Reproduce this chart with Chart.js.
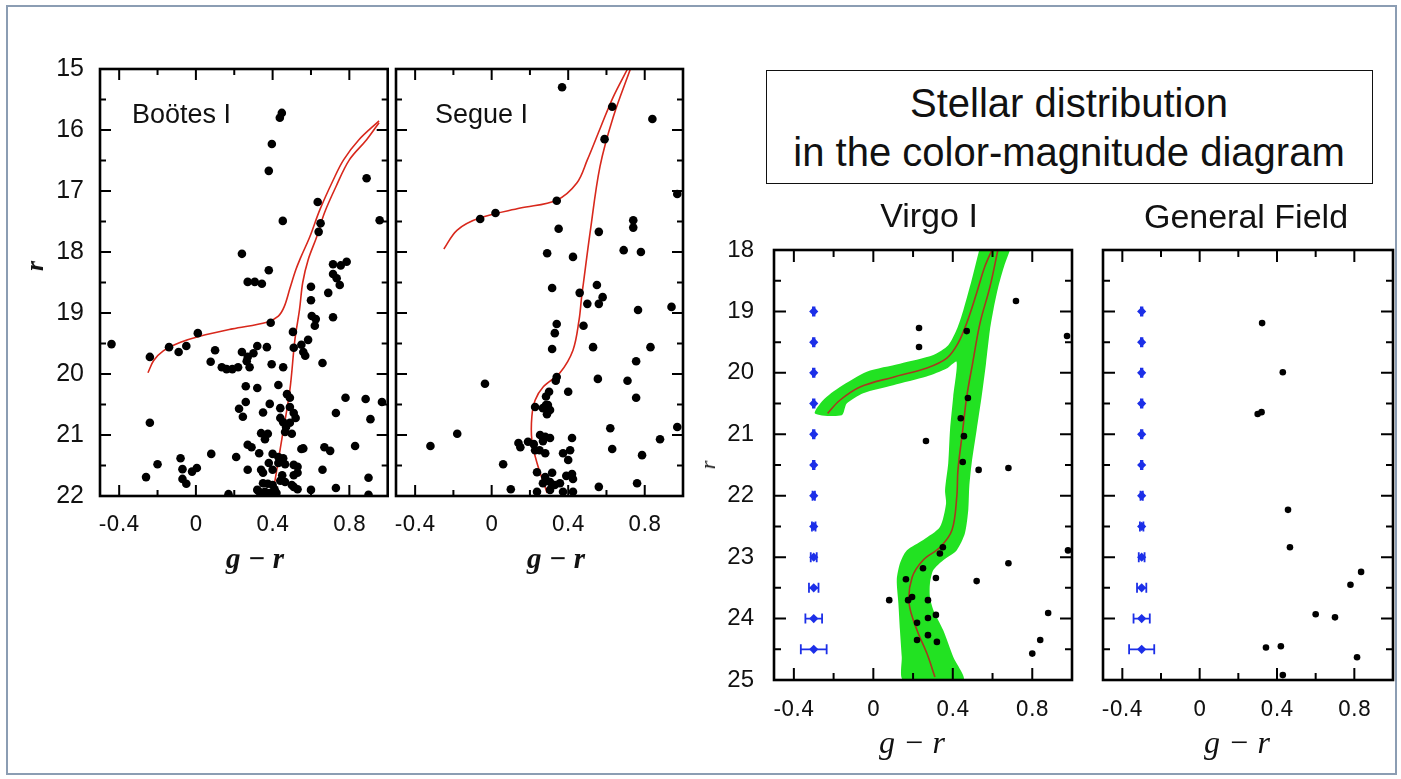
<!DOCTYPE html>
<html>
<head>
<meta charset="utf-8">
<title>Color-magnitude diagrams</title>
<script src="https://cdn.jsdelivr.net/npm/chart.js@4.4.1/dist/chart.umd.min.js"></script>
<style>
  html, body { margin: 0; padding: 0; background: #fff; }
  #page { position: relative; width: 1401px; height: 779px; overflow: hidden; background: #fff;
          font-family: "Liberation Sans", Arial, sans-serif; color: #111; }
  #slideFrame { position: absolute; left: 6px; top: 5px; width: 1391px; height: 770px;
                border: 2px solid #8b9db3; box-sizing: border-box; }
  canvas { position: absolute; }
  .t { position: absolute; white-space: nowrap; line-height: 1; }
  .c { transform: translate(-50%, -50%); }
  .math { font-family: "Liberation Serif", "Times New Roman", serif; font-style: italic; }
  #titleBox { position: absolute; left: 766px; top: 70px; width: 607px; height: 114px;
              border: 1.5px solid #111; box-sizing: border-box; }
</style>
</head>
<body>
<div id="page">
  <div id="slideFrame"></div>

  <canvas id="cmdBootes"></canvas>
  <canvas id="cmdSegue"></canvas>
  <canvas id="cmdVirgo"></canvas>
  <canvas id="cmdField"></canvas>

  <div class="t" style="left:132px; top:101px; font-size:27px;">Boötes I</div>
  <div class="t" style="left:435px; top:101px; font-size:27px;">Segue I</div>

  <div class="t math c" style="left:35px; top:266px; font-size:26px; font-weight:bold; transform:translate(-50%,-50%) rotate(-90deg);">r</div>
  <div class="t math c" style="left:255px; top:558px; font-size:29px; font-weight:bold;">g − r</div>
  <div class="t math c" style="left:556px; top:558px; font-size:29px; font-weight:bold;">g − r</div>

  <div id="titleBox"></div>
  <div class="t c" style="left:1069px; top:103px; font-size:40px;">Stellar distribution</div>
  <div class="t c" style="left:1069px; top:152px; font-size:40px;">in the color-magnitude diagram</div>
  <div class="t c" style="left:929px; top:215px; font-size:34px;">Virgo I</div>
  <div class="t c" style="left:1246px; top:216px; font-size:34px;">General Field</div>

  <div class="t math c" style="left:708px; top:465px; font-size:22px; transform:translate(-50%,-50%) rotate(-90deg);">r</div>
  <div class="t math c" style="left:912px; top:742px; font-size:32px;">g − r</div>
  <div class="t math c" style="left:1237px; top:742px; font-size:32px;">g − r</div>
</div>

<script>
// ---- axis ticks -------------------------------------------------------
const colorTicks = [-0.4, 0, 0.4, 0.8];
const colorMinorTicks = [-0.2, 0.2, 0.6];
const magTicksBright = [15, 16, 17, 18, 19, 20, 21, 22];
const magMinorBright = [15.5, 16.5, 17.5, 18.5, 19.5, 20.5, 21.5];
const magTicksFaint = [18, 19, 20, 21, 22, 23, 24, 25];
const magMinorFaint = [18.5, 19.5, 20.5, 21.5, 22.5, 23.5, 24.5];

// ---- Boötes I: stars [g-r, r] and isochrone branches ------------------
const bootesStars = [
  [0.448,15.72],[0.4375,15.80],[0.396,16.23],[0.38,16.67],[0.453,17.49],[0.635,17.18],
  [0.65,17.53],[0.64,17.67],[0.89,16.79],[0.958,17.48],[0.24,18.03],[0.38,18.30],
  [0.27,18.49],[0.307,18.49],[0.344,18.52],[0.715,18.20],[0.755,18.22],[0.786,18.16],
  [0.715,18.36],[0.734,18.43],[0.75,18.54],[0.69,18.67],[0.60,18.57],[0.60,18.79],
  [0.604,19.05],[0.625,19.10],[0.62,19.21],[0.715,19.07],[0.39,19.16],[0.506,19.31],
  [0.585,19.44],[0.01,19.33],[-0.44,19.51],[-0.14,19.56],[-0.09,19.64],[-0.05,19.54],
  [-0.24,19.72],[0.10,19.61],[0.077,19.80],[0.135,19.89],[0.16,19.92],[0.19,19.92],
  [0.22,19.89],[0.24,19.64],[0.27,19.72],[0.30,19.66],[0.32,19.54],[0.265,19.79],
  [0.28,19.89],[0.37,19.56],[0.395,19.84],[0.455,19.89],[0.51,19.57],[0.55,19.52],
  [0.56,19.64],[0.57,19.70],[0.66,19.82],[0.26,20.20],[0.32,20.23],[0.43,20.18],
  [0.475,20.33],[0.49,20.39],[0.26,20.46],[0.225,20.57],[0.245,20.70],[0.385,20.49],
  [0.35,20.63],[0.44,20.56],[0.49,20.54],[0.44,20.72],[0.51,20.64],[0.52,20.72],
  [0.455,20.79],[0.47,20.87],[0.49,20.80],[0.465,20.95],[0.50,20.98],[0.34,20.97],
  [0.375,20.98],[0.36,21.07],[0.73,20.64],[0.78,20.39],[0.885,20.41],[0.97,20.46],
  [0.91,20.74],[-0.24,20.80],[0.83,21.18],[0.67,21.20],[0.70,21.26],[0.55,21.23],
  [0.56,21.22],[0.27,21.16],[0.29,21.20],[0.33,21.30],[0.21,21.36],[0.08,21.31],
  [-0.08,21.38],[-0.07,21.56],[-0.02,21.60],[0.005,21.54],[-0.20,21.48],[-0.26,21.69],
  [-0.07,21.72],[-0.05,21.80],[0.40,21.31],[0.43,21.36],[0.455,21.38],[0.38,21.46],
  [0.43,21.46],[0.465,21.48],[0.51,21.49],[0.53,21.52],[0.40,21.57],[0.27,21.57],
  [0.34,21.57],[0.35,21.62],[0.45,21.66],[0.465,21.77],[0.44,21.75],[0.51,21.66],
  [0.53,21.62],[0.35,21.79],[0.375,21.80],[0.40,21.82],[0.51,21.85],[0.53,21.89],
  [0.50,21.82],[0.32,21.90],[0.33,21.93],[0.36,21.93],[0.385,21.95],[0.41,21.89],
  [0.42,21.95],[0.17,21.97],[0.60,21.90],[0.66,21.57],[0.73,21.87],[0.90,21.70],[0.90,21.98]
];
const bootesIsoHB = [
  [-0.25,19.98],[-0.22,19.78],[-0.17,19.62],[-0.08,19.48],[0.02,19.38],[0.19,19.26],
  [0.37,19.15],[0.43,19.05],[0.46,18.9],[0.49,18.6],[0.52,18.3],[0.545,18.1],
  [0.594,17.75],[0.646,17.31],[0.716,16.82],[0.77,16.49],[0.85,16.16],[0.955,15.85]
];
const bootesIsoRGB = [
  [0.40,21.98],[0.45,21.03],[0.49,20.26],[0.516,19.44],[0.54,18.95],[0.557,18.5],
  [0.585,18.13],[0.63,17.75],[0.67,17.36],[0.73,16.93],[0.80,16.49],[0.89,16.16],[0.955,15.88]
];

// ---- Segue I ----------------------------------------------------------
const segueStars = [
  [0.368,15.30],[0.63,15.62],[0.59,16.15],[0.84,15.82],[0.97,17.05],[-0.06,17.46],
  [0.02,17.36],[0.34,17.16],[0.35,17.62],[0.56,17.67],[0.74,17.48],[0.74,17.60],
  [0.29,18.02],[0.425,18.08],[0.69,17.97],[0.78,18.00],[0.316,18.59],[0.46,18.67],
  [0.55,18.54],[0.58,18.74],[0.50,18.85],[0.56,18.85],[0.765,18.95],[0.94,18.90],
  [0.34,19.18],[0.33,19.33],[0.48,19.21],[0.316,19.59],[0.53,19.56],[0.83,19.56],
  [0.755,19.79],[-0.035,20.16],[0.34,20.05],[0.335,20.11],[0.555,20.08],[0.71,20.11],
  [0.40,20.29],[0.30,20.29],[0.284,20.37],[0.755,20.39],[0.284,20.51],[0.294,20.51],
  [0.268,20.56],[0.305,20.59],[0.227,20.54],[0.289,20.66],[-0.18,20.98],[-0.32,21.18],
  [0.06,21.48],[0.62,20.89],[0.97,20.87],[0.88,21.07],[0.63,21.23],[0.786,21.33],
  [0.14,21.13],[0.15,21.20],[0.19,21.11],[0.22,21.15],[0.227,21.25],[0.253,21.00],
  [0.28,21.03],[0.305,21.05],[0.268,21.10],[0.42,21.05],[0.41,21.25],[0.373,21.30],
  [0.40,21.41],[0.25,21.25],[0.28,21.30],[0.237,21.61],[0.316,21.62],[0.28,21.69],
  [0.39,21.67],[0.42,21.64],[0.425,21.72],[0.268,21.79],[0.305,21.77],[0.33,21.82],
  [0.357,21.79],[0.305,21.90],[0.373,21.93],[0.425,21.93],[0.237,21.93],[0.10,21.89],
  [0.56,21.85],[0.76,21.79]
];
const segueIsoHB = [
  [-0.25,17.95],[-0.18,17.64],[-0.06,17.44],[0.15,17.28],[0.34,17.15],[0.445,16.87],
  [0.5,16.49],[0.57,15.95],[0.635,15.46],[0.71,15.0]
];
const segueIsoRGB = [
  [0.29,21.95],[0.237,21.46],[0.21,21.08],[0.21,20.7],[0.227,20.43],[0.27,20.21],
  [0.357,19.98],[0.425,19.61],[0.457,19.11],[0.47,18.74],[0.48,18.5],[0.514,17.69],
  [0.566,16.6],[0.635,15.79],[0.725,15.0]
];

// ---- Virgo I ----------------------------------------------------------
const virgoStars = [
  [0.718,18.83],[0.23,19.27],[0.23,19.58],[0.47,19.32],[0.975,19.40],[0.476,20.41],
  [0.44,20.74],[0.456,21.03],[0.265,21.11],[0.45,21.45],[0.53,21.58],[0.68,21.55],
  [0.98,22.89],[0.35,22.84],[0.335,22.94],[0.68,23.10],[0.25,23.18],[0.164,23.36],
  [0.315,23.34],[0.52,23.39],[0.08,23.70],[0.175,23.70],[0.195,23.65],[0.275,23.70],
  [0.315,23.94],[0.275,23.99],[0.22,24.07],[0.22,24.35],[0.275,24.27],[0.32,24.38],
  [0.88,23.91],[0.84,24.35],[0.80,24.57]
];
const virgoIsoHB = [
  [-0.23,20.66],[-0.17,20.45],[-0.067,20.23],[0.1,20.07],[0.27,19.92],[0.37,19.76],
  [0.426,19.52],[0.47,19.19],[0.52,18.7],[0.56,18.28],[0.597,18.0]
];
const virgoIsoRGB = [
  [0.627,18.0],[0.587,18.6],[0.537,19.19],[0.5,19.84],[0.47,20.39],[0.45,20.93],
  [0.426,21.58],[0.42,22.02],[0.396,22.56],[0.336,22.84],[0.25,23.05],[0.195,23.33],
  [0.18,23.75],[0.22,24.19],[0.27,24.57],[0.31,24.95]
];
// outline of the photometric-error envelope around the isochrone
const virgoEnvelope = [
  [0.533,18.0],[0.495,18.49],[0.453,18.98],[0.419,19.30],[0.377,19.55],[0.302,19.71],
  [0.134,19.85],[-0.033,19.98],[-0.168,20.23],[-0.252,20.44],[-0.294,20.66],[-0.159,20.69],
  [-0.134,20.50],[-0.051,20.33],[0.10,20.20],[0.268,20.06],[0.369,19.93],[0.419,19.82],
  [0.402,20.39],[0.386,20.93],[0.377,21.47],[0.361,21.91],[0.366,22.13],[0.335,22.51],
  [0.251,22.72],[0.168,22.89],[0.134,23.10],[0.118,23.37],[0.126,23.75],[0.134,24.19],
  [0.143,24.62],[0.151,25.0],[0.453,25.0],[0.402,24.62],[0.352,24.19],[0.302,23.86],
  [0.285,23.65],[0.285,23.43],[0.302,23.21],[0.352,23.05],[0.419,22.89],[0.461,22.61],
  [0.478,22.23],[0.483,21.85],[0.495,21.47],[0.520,20.93],[0.545,20.39],[0.567,19.85],
  [0.587,19.30],[0.604,18.98],[0.629,18.60],[0.658,18.27],[0.688,18.0]
];

// ---- General field ----------------------------------------------------
const fieldStars = [
  [0.323,19.19],[0.43,19.99],[0.30,20.67],[0.32,20.64],[0.457,22.23],[0.467,22.84],
  [0.835,23.24],[0.78,23.45],[0.60,23.93],[0.70,23.98],[0.343,24.47],[0.42,24.45],
  [0.814,24.63],[0.43,24.92]
];

// ---- typical photometric errors per magnitude bin ---------------------
const errColumnColor = -0.3;
const errMag   = [19, 19.5, 20, 20.5, 21, 21.5, 22, 22.5, 23, 23.5, 24, 24.5];
const errColor = [0.004, 0.004, 0.004, 0.004, 0.004, 0.004, 0.006, 0.009, 0.015, 0.024, 0.042, 0.065];

// -----------------------------------------------------------------------
const toXY = arr => arr.map(([x, y]) => ({ x, y }));

// box frame with inward major/minor ticks on all four sides
const framePlugin = {
  id: 'cmdFrame',
  afterDatasetsDraw(chart, args, o) {
    const { ctx, chartArea: { left, right, top, bottom }, scales: { x, y } } = chart;
    ctx.save();
    ctx.strokeStyle = '#000';
    ctx.lineWidth = o.tickWidth;
    const xt = (vals, len) => vals.forEach(v => {
      const p = x.getPixelForValue(v);
      ctx.beginPath();
      ctx.moveTo(p, bottom); ctx.lineTo(p, bottom - len);
      ctx.moveTo(p, top); ctx.lineTo(p, top + len);
      ctx.stroke();
    });
    const yt = (vals, len) => vals.forEach(v => {
      const p = y.getPixelForValue(v);
      ctx.beginPath();
      ctx.moveTo(left, p); ctx.lineTo(left + len, p);
      ctx.moveTo(right, p); ctx.lineTo(right - len, p);
      ctx.stroke();
    });
    xt(o.xMajor, o.majorLen); xt(o.xMinor, o.minorLen);
    yt(o.yMajor, o.majorLen); yt(o.yMinor, o.minorLen);
    ctx.lineWidth = o.frameWidth;
    ctx.strokeRect(left, top, right - left, bottom - top);
    ctx.restore();
  }
};

// horizontal error bars with end caps for datasets carrying xErr
const errorBarPlugin = {
  id: 'errorBars',
  afterDatasetsDraw(chart) {
    const { ctx, scales: { x, y } } = chart;
    chart.data.datasets.forEach(ds => {
      if (!ds.xErr) return;
      ctx.save();
      ctx.strokeStyle = ds.backgroundColor;
      ctx.lineWidth = 1.8;
      ds.data.forEach((p, k) => {
        const py = y.getPixelForValue(p.y);
        const x0 = x.getPixelForValue(p.x - ds.xErr[k]);
        const x1 = x.getPixelForValue(p.x + ds.xErr[k]);
        ctx.beginPath();
        ctx.moveTo(x0, py); ctx.lineTo(x1, py);
        ctx.moveTo(x0, py - 5); ctx.lineTo(x0, py + 5);
        ctx.moveTo(x1, py - 5); ctx.lineTo(x1, py + 5);
        ctx.stroke();
      });
      ctx.restore();
    });
  }
};

const fmtColor = v => (v === 0 ? '0' : String(v));

function buildPanel(id, box, area, p) {
  const cv = document.getElementById(id);
  cv.width = box.w; cv.height = box.h;
  Object.assign(cv.style, { left: box.x + 'px', top: box.y + 'px', width: box.w + 'px', height: box.h + 'px' });
  return new Chart(cv, {
    type: 'scatter',
    data: { datasets: p.datasets },
    plugins: [framePlugin, errorBarPlugin],
    options: {
      responsive: false,
      animation: false,
      devicePixelRatio: 1,
      events: [],
      layout: { padding: { left: 0, top: area.T - box.y, right: box.x + box.w - area.R, bottom: 0 } },
      plugins: {
        legend: { display: false },
        tooltip: { enabled: false },
        cmdFrame: {
          xMajor: colorTicks, xMinor: colorMinorTicks,
          yMajor: p.yTicks, yMinor: p.yMinor,
          majorLen: p.majorLen, minorLen: p.minorLen,
          tickWidth: 2, frameWidth: 2.6
        }
      },
      scales: {
        x: {
          type: 'linear', position: 'bottom', min: -0.5, max: 1.0,
          grid: { display: false, drawTicks: false },
          border: { display: false },
          ticks: { color: '#111', padding: p.xPad, maxRotation: 0,
                   font: { family: 'DejaVu Sans', size: 21 }, callback: fmtColor },
          afterBuildTicks: s => { s.ticks = colorTicks.map(v => ({ value: v })); },
          afterFit: s => { s.height = box.y + box.h - area.B; }
        },
        y: {
          type: 'linear', position: 'left', min: p.yMin, max: p.yMax, reverse: true,
          grid: { display: false, drawTicks: false },
          border: { display: false },
          ticks: { display: p.showYLabels, color: '#111', padding: p.yPad,
                   font: { family: 'Liberation Sans', size: p.yFont } },
          afterBuildTicks: s => { s.ticks = p.yTicks.map(v => ({ value: v })); },
          afterFit: s => { s.width = area.L - box.x; }
        }
      }
    }
  });
}

const isoLine = (pts, color, width) => ({
  data: toXY(pts), showLine: true, fill: false, tension: 0.35,
  borderColor: color, borderWidth: width, pointRadius: 0
});
const starSet = (pts, r) => ({
  data: toXY(pts), showLine: false, pointRadius: r,
  backgroundColor: '#000', borderWidth: 0, pointStyle: 'circle'
});
const errSet = () => ({
  data: errMag.map(m => ({ x: errColumnColor, y: m })),
  xErr: errColor, showLine: false, pointStyle: 'rectRot', pointRadius: 4.6,
  backgroundColor: '#1c2fe8', borderWidth: 0
});

buildPanel('cmdBootes', { x: 0, y: 20, w: 392, h: 555 }, { L: 100, R: 388, T: 69, B: 496 }, {
  yMin: 15, yMax: 22, yTicks: magTicksBright, yMinor: magMinorBright,
  showYLabels: true, yFont: 25, yPad: 16, xPad: 17, majorLen: 11, minorLen: 6,
  datasets: [
    starSet(bootesStars, 4.3),
    isoLine(bootesIsoHB, '#d8281c', 1.6),
    isoLine(bootesIsoRGB, '#d8281c', 1.6)
  ]
});

buildPanel('cmdSegue', { x: 350, y: 20, w: 342, h: 555 }, { L: 396, R: 683, T: 69, B: 496 }, {
  yMin: 15, yMax: 22, yTicks: magTicksBright, yMinor: magMinorBright,
  showYLabels: false, yFont: 25, yPad: 16, xPad: 17, majorLen: 11, minorLen: 6,
  datasets: [
    starSet(segueStars, 4.3),
    isoLine(segueIsoHB, '#d8281c', 1.6),
    isoLine(segueIsoRGB, '#d8281c', 1.6)
  ]
});

buildPanel('cmdVirgo', { x: 700, y: 200, w: 385, h: 555 }, { L: 774, R: 1072, T: 250, B: 680 }, {
  yMin: 18, yMax: 25, yTicks: magTicksFaint, yMinor: magMinorFaint,
  showYLabels: true, yFont: 24, yPad: 20, xPad: 18, majorLen: 12, minorLen: 7,
  datasets: [
    errSet(),
    starSet(virgoStars, 3.3),
    isoLine(virgoIsoHB, '#a8381f', 1.6),
    isoLine(virgoIsoRGB, '#a8381f', 1.6),
    { data: toXY(virgoEnvelope), showLine: true, fill: 'shape', tension: 0.25,
      backgroundColor: '#22e222', borderColor: 'rgba(0,0,0,0)', borderWidth: 1, pointRadius: 0 }
  ]
});

buildPanel('cmdField', { x: 1055, y: 200, w: 346, h: 555 }, { L: 1103, R: 1393, T: 250, B: 680 }, {
  yMin: 18, yMax: 25, yTicks: magTicksFaint, yMinor: magMinorFaint,
  showYLabels: false, yFont: 24, yPad: 20, xPad: 18, majorLen: 12, minorLen: 7,
  datasets: [
    errSet(),
    starSet(fieldStars, 3.3)
  ]
});
</script>
</body>
</html>
